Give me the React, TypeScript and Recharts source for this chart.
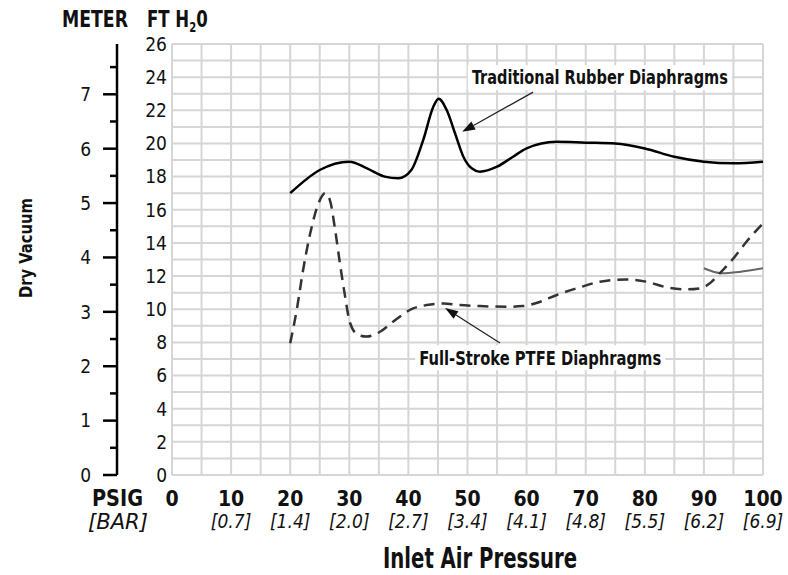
import { LineChart, Line, XAxis, YAxis, CartesianGrid, ReferenceLine, ReferenceDot } from 'recharts'

const FONT = "'Liberation Sans Narrow', 'DejaVu Sans Condensed', 'Roboto', sans-serif"

// x axis: inlet air pressure (psig), grid every 5, labels every 10
const psigTicks = [0, 5, 10, 15, 20, 25, 30, 35, 40, 45, 50, 55, 60, 65, 70, 75, 80, 85, 90, 95, 100]
const psigLabels = ['0', '10', '20', '30', '40', '50', '60', '70', '80', '90', '100']
const barLabels = ['', '[0.7]', '[1.4]', '[2.0]', '[2.7]', '[3.4]', '[4.1]', '[4.8]', '[5.5]', '[6.2]', '[6.9]']

// y axes: ft H2O (grid every 1, labels every 2) and meter (ticks every 0.5)
const ftTicks = [0, 1, 2, 3, 4, 5, 6, 7, 8, 9, 10, 11, 12, 13, 14, 15, 16, 17, 18, 19, 20, 21, 22, 23, 24, 25, 26]
const meterTicks = [0, 0.5, 1, 1.5, 2, 2.5, 3, 3.5, 4, 4.5, 5, 5.5, 6, 6.5, 7, 7.5]
const meterMax = 7.9248 // 26 ft

// Traditional rubber diaphragms
const rubberPsig = [20, 25, 30, 33, 36, 38.3, 40.5, 42.5, 44.2, 45.1, 46.5, 47.9, 49.3, 50.7, 52.1, 55, 57.7, 60, 65, 70, 75, 80, 85, 90, 95, 100]
const rubberFt = [17.0, 18.4, 18.9, 18.5, 18.0, 17.9, 18.4, 20.2, 22.2, 22.7, 22.0, 20.6, 19.2, 18.5, 18.3, 18.6, 19.2, 19.7, 20.1, 20.05, 20.0, 19.7, 19.2, 18.9, 18.8, 18.9]

// Full-stroke PTFE diaphragms (dashed)
const ptfePsig = [20, 21.1, 22.2, 23.4, 24.8, 25.9, 26.7, 27.6, 28.4, 29.3, 30.1, 31.5, 32.9, 35.2, 37.4, 40.8, 43.1, 45.9, 48.7, 52.1, 56.6, 59.4, 62.3, 65.1, 69, 72.4, 76.9, 80.3, 83.7, 87.1, 89.3, 91, 92.7, 95, 97.2, 100]
const ptfeFt = [7.95, 9.95, 12.4, 14.6, 16.4, 17.0, 16.6, 14.8, 12.8, 10.75, 9.2, 8.45, 8.35, 8.64, 9.25, 10.05, 10.25, 10.35, 10.25, 10.19, 10.15, 10.19, 10.45, 10.86, 11.32, 11.66, 11.8, 11.66, 11.32, 11.2, 11.26, 11.56, 12.17, 13.07, 14.07, 15.18]

// grey solid segment at the high end
const greyPsig = [90, 93, 96, 100]
const greyFt = [12.47, 12.17, 12.25, 12.47]

const rubber = rubberPsig.map((p, i) => ({ p, v: rubberFt[i] }))
const ptfe = ptfePsig.map((p, i) => ({ p, v: ptfeFt[i] }))
const grey = greyPsig.map((p, i) => ({ p, v: greyFt[i] }))

const MeterTick = ({ x, y, payload }: any) => {
  const v = payload.value
  const major = Number.isInteger(v)
  return (
    <g>
      <line x1={x - (major ? 14 : 7)} x2={x} y1={y} y2={y} stroke="#000" strokeWidth={2.5} />
      {major && (
        <text x={x - 26} y={y} dy="0.36em" textAnchor="end" fontFamily={FONT} fontSize={19} fill="#111">{v}</text>
      )}
    </g>
  )
}

const FtTick = ({ x, y, payload }: any) => {
  if (payload.value % 2 !== 0) return <g />
  return (
    <text x={x} y={y} dy="0.36em" textAnchor="end" fontFamily={FONT} fontSize={19} fill="#111">{payload.value}</text>
  )
}

const PsigTick = ({ x, y, payload }: any) => {
  if (payload.value % 10 !== 0) return <g />
  const i = payload.value / 10
  return (
    <g fontFamily={FONT} fill="#111">
      <text x={x} y={y + 31} textAnchor="middle" fontSize={21} fontWeight="bold">{psigLabels[i]}</text>
      <text x={x} y={y + 53} textAnchor="middle" fontSize={19} fontStyle="italic">{barLabels[i]}</text>
    </g>
  )
}

const Arrow = ({ x1, y1, x2, y2 }: any) => {
  const a = Math.atan2(y2 - y1, x2 - x1)
  const L = 13, W = 4.5
  const bx = x2 - L * Math.cos(a), by = y2 - L * Math.sin(a)
  return (
    <g>
      <line x1={x1} y1={y1} x2={bx} y2={by} stroke="#222" strokeWidth={1.3} />
      <polygon points={`${x2},${y2} ${bx + W * Math.sin(a)},${by - W * Math.cos(a)} ${bx - W * Math.sin(a)},${by + W * Math.cos(a)}`} fill="#111" />
    </g>
  )
}

const callout = (text: string, w: number) => ({ cx, cy }: any) => (
  <g>
    <rect x={cx - w / 2 - 4} y={cy - 12} width={w + 8} height={25} fill="#fff" />
    <text x={cx} y={cy} dy="0.36em" textAnchor="middle" fontFamily={FONT} fontWeight="bold" fontSize={20}
      textLength={w} lengthAdjust="spacingAndGlyphs" fill="#111">{text}</text>
  </g>
)

export default function App() {
  return (
    <div style={{ position: 'absolute', left: 0, top: 0, width: 788, height: 575, background: '#fff' }}>
      <LineChart width={788} height={575} margin={{ top: 44, right: 25, bottom: 0, left: 0 }}>
        <CartesianGrid yAxisId="ft" stroke="#d6d6d6" strokeWidth={2} />
        <XAxis dataKey="p" type="number" domain={[0, 100]} ticks={psigTicks} interval={0} allowDataOverflow
          axisLine={false} tickLine={false} tickSize={0} tickMargin={0} height={100} tick={<PsigTick />} />
        <YAxis yAxisId="ft" type="number" domain={[0, 26]} ticks={ftTicks} interval={0} allowDataOverflow
          axisLine={false} tickLine={false} tickSize={0} tickMargin={5} width={55} tick={<FtTick />} />
        <YAxis yAxisId="m" type="number" domain={[0, meterMax]} ticks={meterTicks} interval={0} allowDataOverflow
          axisLine={{ stroke: '#000', strokeWidth: 2.5 }} tickLine={false} tickSize={0} tickMargin={0} width={117} tick={<MeterTick />} />
        <Line yAxisId="ft" data={rubber} dataKey="v" type="monotone" stroke="#000" strokeWidth={2.5} dot={false} isAnimationActive={false} />
        <Line yAxisId="ft" data={grey} dataKey="v" type="monotone" stroke="#666" strokeWidth={2} dot={false} isAnimationActive={false} />
        <Line yAxisId="ft" data={ptfe} dataKey="v" type="monotone" stroke="#333" strokeWidth={2.5} strokeDasharray="11 7" dot={false} isAnimationActive={false} />
        <ReferenceLine yAxisId="ft" segment={[{ x: 61.1, y: 23.1 }, { x: 49.1, y: 20.7 }]} ifOverflow="visible" shape={<Arrow />} />
        <ReferenceLine yAxisId="ft" segment={[{ x: 55.5, y: 7.96 }, { x: 46.2, y: 10.07 }]} ifOverflow="visible" shape={<Arrow />} />
        <ReferenceDot yAxisId="ft" x={72.4} y={24.0} r={0} ifOverflow="visible" shape={callout('Traditional Rubber Diaphragms', 256)} />
        <ReferenceDot yAxisId="ft" x={62.3} y={7.1} r={0} ifOverflow="visible" shape={callout('Full-Stroke PTFE Diaphragms', 242)} />
      </LineChart>
      <svg width={788} height={575} style={{ position: 'absolute', left: 0, top: 0, pointerEvents: 'none' }} fontFamily={FONT} fill="#111">
        <text x={62} y={27} fontSize={23} fontWeight="bold" textLength={66} lengthAdjust="spacingAndGlyphs">METER</text>
        <g transform="translate(147,27) scale(0.8,1)">
          <text x={0} y={0} fontSize={23} fontWeight="bold">FT H<tspan fontSize={14} dy={5}>2</tspan><tspan dy={-5}>0</tspan></text>
        </g>
        <text x={92} y={506} fontSize={23} fontWeight="bold" textLength={51} lengthAdjust="spacingAndGlyphs">PSIG</text>
        <text x={88} y={529} fontSize={22} fontStyle="italic" textLength={60} lengthAdjust="spacingAndGlyphs">[BAR]</text>
        <text transform="translate(32,248) rotate(-90)" textAnchor="middle" fontSize={18} fontWeight="bold" textLength={100} lengthAdjust="spacingAndGlyphs">Dry Vacuum</text>
        <text x={383} y={568} fontSize={29} fontWeight="bold" textLength={194} lengthAdjust="spacingAndGlyphs">Inlet Air Pressure</text>
      </svg>
    </div>
  )
}
